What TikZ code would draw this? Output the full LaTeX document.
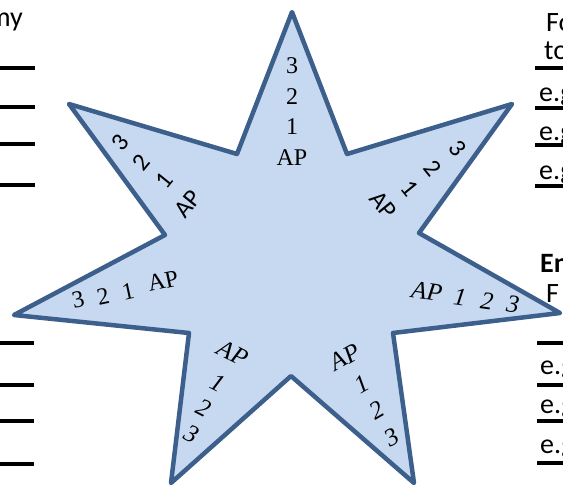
\documentclass[tikz,border=0pt]{standalone}
\usepackage{fontspec}
\setmainfont{Liberation Serif}
\newfontfamily\calfont{Carlito}
\definecolor{starfill}{RGB}{198,217,240}
\definecolor{starline}{RGB}{61,95,140}
\begin{document}
\begin{tikzpicture}[x=1pt,y=-1pt,
  starshape/.style={fill=starfill,draw=starline,line width=4.5pt,line join=round},
  serlab/.style={font=\fontsize{24}{24}\selectfont,inner sep=0pt},
  sanslab/.style={font=\calfont\fontsize{25}{25}\selectfont,inner sep=0pt},
  itlab/.style={font=\itshape\fontsize{25}{25}\selectfont,inner sep=0pt},
  sidetext/.style={font=\calfont\fontsize{28}{28}\selectfont,inner sep=0pt,anchor=base west},
  rulebar/.style={line width=4pt,draw=black}]
\useasboundingbox (0,0) rectangle (563,491);
% star
\draw[starshape] (292,12) -- (347,154) -- (512,104) -- (419,233) -- (560,313)
  -- (393,333) -- (414,483) -- (291,376) -- (171,483) -- (189,333)
  -- (14,315) -- (165,235) -- (69,104) -- (237,154) -- cycle;
% top arm
\node[serlab] (t3) at (292,66) {3};
\node[serlab] (t2) at (292,97) {2};
\node[serlab] (t1) at (292,127) {1};
\node[serlab] (tap) at (292,158) {AP};
% upper-left arm
\node[sanslab,rotate=51] (ul3) at (120,143) {3};
\node[sanslab,rotate=51] (ul2) at (141,162) {2};
\node[sanslab,rotate=51] (ul1) at (164,181) {1};
\node[sanslab,rotate=51] (ulap) at (188,204) {AP};
% upper-right arm
\node[sanslab,rotate=-51] (ur3) at (458,148) {3};
\node[sanslab,rotate=-51] (ur2) at (433,168) {2};
\node[sanslab,rotate=-51] (ur1) at (410,188) {1};
\node[sanslab,rotate=-51] (urap) at (383,205) {AP};
% left arm
\node[serlab,rotate=12] (l3) at (78,300) {3};
\node[serlab,rotate=12] (l2) at (103,296) {2};
\node[serlab,rotate=12] (l1) at (128,291) {1};
\node[serlab,rotate=12] (lap) at (163,281) {AP};
% right arm
\node[itlab,rotate=-8] (rap) at (427,291) {AP};
\node[itlab,rotate=-8] (r1) at (460,297) {1};
\node[itlab,rotate=-8] (r2) at (487,301) {2};
\node[itlab,rotate=-8] (r3) at (513,304) {3};
% bottom-right arm
\node[itlab,rotate=30] (brap) at (345,357) {AP};
\node[itlab,rotate=30] (br1) at (362,384) {1};
\node[itlab,rotate=30] (br2) at (377,410) {2};
\node[itlab,rotate=30] (br3) at (392,437) {3};
% bottom-left arm
\node[itlab,rotate=-27] (blap) at (233,353) {AP};
\node[itlab,rotate=-27] (bl1) at (218,383) {1};
\node[itlab,rotate=-27] (bl2) at (204,408) {2};
\node[itlab,rotate=-27] (bl3) at (192,434) {3};
% left side text and rules
\node[sidetext,anchor=base east] (my) at (23,26) {my};
\draw[rulebar] (0,68) -- (35,68);
\draw[rulebar] (0,107) -- (35,107);
\draw[rulebar] (0,144) -- (35,144);
\draw[rulebar] (0,185) -- (35,185);
\draw[rulebar] (0,343) -- (34,343);
\draw[rulebar] (0,385) -- (34,385);
\draw[rulebar] (0,421) -- (34,421);
\draw[rulebar] (0,464) -- (34,464);
% right side text and rules
\node[sidetext] (fo) at (546,31) {Fo};
\node[sidetext] (to) at (544,59) {to};
\draw[rulebar] (535,68) -- (563,68);
\node[sidetext] (eg1) at (539,101) {e.g};
\draw[rulebar] (535,108) -- (563,108);
\node[sidetext] (eg2) at (539,140) {e.g};
\draw[rulebar] (535,145) -- (563,145);
\node[sidetext] (eg3) at (539,179) {e.g};
\draw[rulebar] (535,186) -- (563,186);
\node[sidetext,font=\calfont\bfseries\fontsize{28}{28}\selectfont] (en) at (540,272) {En};
\node[sidetext] (f) at (546,302) {F};
\draw[rulebar] (537,343) -- (563,343);
\node[sidetext] (eg4) at (540,374) {e.g};
\draw[rulebar] (537,385) -- (563,385);
\node[sidetext] (eg5) at (540,413) {e.g};
\draw[rulebar] (537,421) -- (563,421);
\node[sidetext] (eg6) at (540,453) {e.g};
\draw[rulebar] (537,463) -- (563,463);
\end{tikzpicture}
\end{document}
